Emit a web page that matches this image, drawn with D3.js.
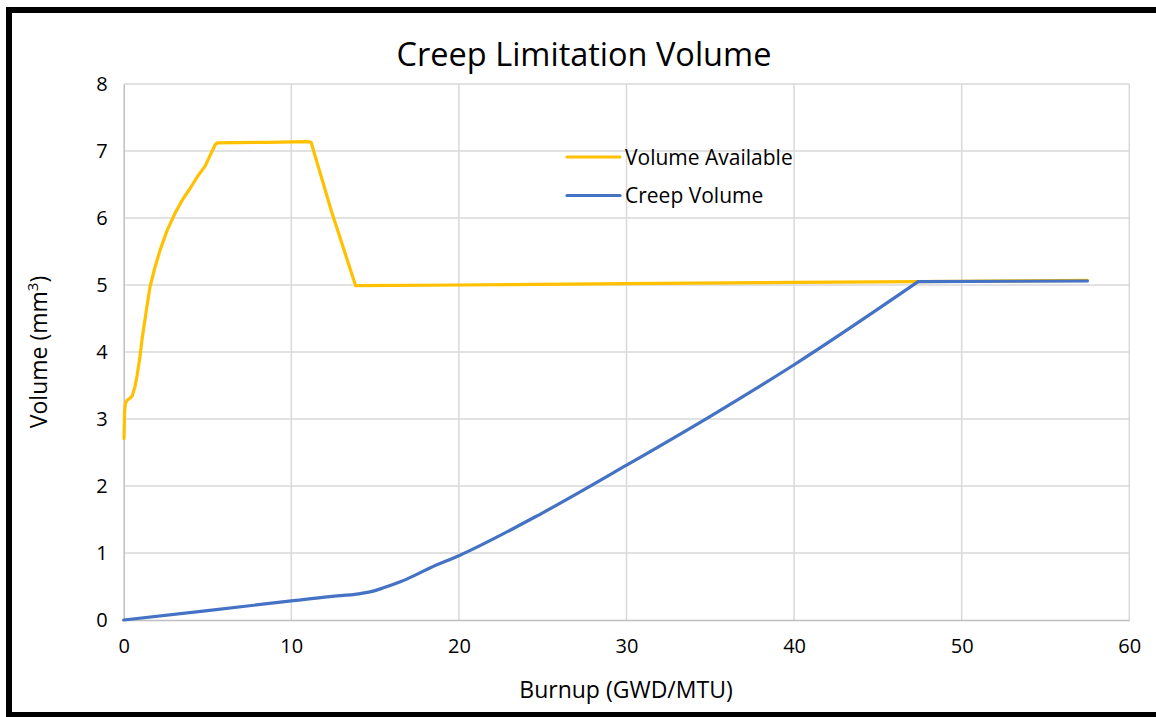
<!DOCTYPE html>
<html><head><meta charset="utf-8">
<script src="https://cdn.jsdelivr.net/npm/d3@7"></script>
<style>body{margin:0;background:#fff;} svg{display:block;}</style>
</head><body>
<svg id="chart" width="1156" height="717"></svg>
<script>
const availX = [0.02,0.05,0.1,0.2,0.38,0.5,0.67,0.8,0.97,1.1,1.27,1.4,1.57,1.85,2.17,2.6,3.06,3.5,3.96,4.4,4.85,5.15,5.45,5.57,8.5,11.0,11.18,12.41,13.84,20,30,40,47.4,57.5];
const availY = [2.71,3.1,3.23,3.28,3.31,3.34,3.48,3.65,3.93,4.2,4.48,4.7,4.97,5.25,5.52,5.82,6.07,6.27,6.44,6.62,6.77,6.93,7.09,7.12,7.13,7.14,7.13,6.09,4.99,5.0,5.02,5.04,5.05,5.07];
const creepX = [0,5,10,12.3,14.0,14.7,15.5,16.5,17.4,18.3,20,25,30,35,40,47.4,57.5];
const creepY = [0,0.14,0.285,0.35,0.39,0.42,0.48,0.57,0.67,0.78,0.96,1.60,2.31,3.04,3.81,5.05,5.06];
const xTicks = [0,10,20,30,40,50,60];
const yTicks = [0,1,2,3,4,5,6,7,8];
const seriesNames = ["Volume Available","Creep Volume"];
const colors = ["#FFC000","#4472C4"];

const font = "'Open Sans', sans-serif";
const svg = d3.select("#chart");
const x = d3.scaleLinear().domain([0,60]).range([123.7,1129.3]);
const y = d3.scaleLinear().domain([0,8]).range([620,84]);

// border
svg.append("rect").attr("x",9).attr("y",10).attr("width",1160).attr("height",705)
  .attr("fill","none").attr("stroke","#000").attr("stroke-width",6);

// gridlines
const grid = svg.append("g");
grid.selectAll(".gy").data(yTicks.filter(d=>d>0)).enter().append("line")
  .attr("x1",x(0)).attr("x2",x(60)).attr("y1",d=>y(d)).attr("y2",d=>y(d))
  .attr("stroke","#d9d9d9").attr("stroke-width",1.5);
grid.selectAll(".gx").data(xTicks.filter(d=>d>0)).enter().append("line")
  .attr("x1",d=>x(d)).attr("x2",d=>x(d)).attr("y1",y(0)).attr("y2",y(8))
  .attr("stroke","#d9d9d9").attr("stroke-width",1.5);

// axes
const xAxis = svg.append("g").attr("transform",`translate(0,${y(0)})`)
  .call(d3.axisBottom(x).tickValues(xTicks).tickSize(0).tickPadding(19));
const yAxis = svg.append("g").attr("transform",`translate(${x(0)},0)`)
  .call(d3.axisLeft(y).tickValues(yTicks).tickSize(0).tickPadding(16));
[xAxis,yAxis].forEach(a=>{
  a.select(".domain").attr("stroke","#bfbfbf").attr("stroke-width",1.5);
  a.selectAll("text").attr("font-family",font).attr("font-size",20).attr("fill","#000");
});

// lines
const lin = d3.line().x(d=>x(d[0])).y(d=>y(d[1])).curve(d3.curveLinear);
const smooth = d3.line().x(d=>x(d[0])).y(d=>y(d[1])).curve(d3.curveMonotoneX);
const availData = availX.map((v,i)=>[v,availY[i]]);
const creepData = creepX.map((v,i)=>[v,creepY[i]]);
const knee = creepX.indexOf(47.4);
svg.append("path").datum(availData).attr("d",lin)
  .attr("fill","none").attr("stroke",colors[0]).attr("stroke-width",3.2).attr("stroke-linejoin","round").attr("stroke-linecap","round");
svg.append("path").datum(creepData.slice(0,knee+1)).attr("d",smooth)
  .attr("fill","none").attr("stroke",colors[1]).attr("stroke-width",3.2).attr("stroke-linejoin","round").attr("stroke-linecap","round");
svg.append("path").datum(creepData.slice(knee)).attr("d",lin)
  .attr("fill","none").attr("stroke",colors[1]).attr("stroke-width",3.2).attr("stroke-linejoin","round").attr("stroke-linecap","round");

// title
svg.append("text").attr("x",584).attr("y",66).attr("text-anchor","middle")
  .attr("font-family",font).attr("font-size",32.5).attr("fill","#000").text("Creep Limitation Volume");

// axis titles
svg.append("text").attr("x",626).attr("y",698).attr("text-anchor","middle")
  .attr("font-family",font).attr("font-size",23).attr("fill","#000").text("Burnup (GWD/MTU)");
const yt = svg.append("text").attr("transform","translate(47,352) rotate(-90)").attr("text-anchor","middle")
  .attr("font-family",font).attr("font-size",23).attr("fill","#000");
yt.append("tspan").text("Volume (mm");
yt.append("tspan").attr("font-size",15).attr("dy",-9).text("3");
yt.append("tspan").attr("dy",9).text(")");

// legend
const lg = svg.append("g");
seriesNames.forEach((n,i)=>{
  const ly = 157 + i*38.5;
  lg.append("line").attr("x1",567).attr("x2",620).attr("y1",ly).attr("y2",ly)
    .attr("stroke",colors[i]).attr("stroke-width",3.2).attr("stroke-linecap","round");
  lg.append("text").attr("x",625).attr("y",ly+7.5).attr("font-family",font).attr("font-size",21)
    .attr("fill","#000").text(n);
});
</script>
</body></html>
